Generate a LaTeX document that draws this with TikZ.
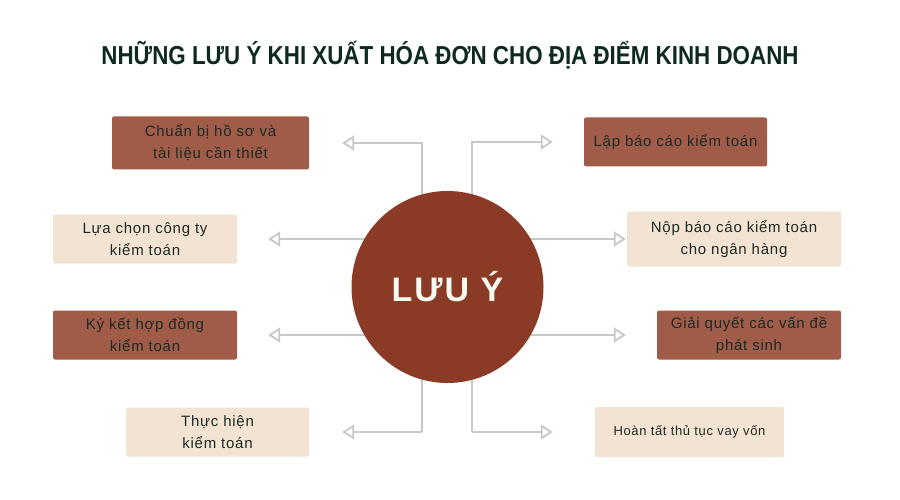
\documentclass[tikz,border=0pt]{standalone}
\usepackage{fontspec}
\usepackage{xcolor}
\usetikzlibrary{positioning,arrows.meta}
\newfontfamily\boxfont[LetterSpace=5]{Liberation Sans}
\newfontfamily\hubfont[LetterSpace=6]{Liberation Sans}
\newfontfamily\titlefont[FakeStretch=0.86]{Liberation Sans}
\definecolor{BoxDark}{HTML}{A05C48}
\definecolor{BoxLight}{HTML}{F3E3D3}
\definecolor{HubRed}{HTML}{8B3A25}
\definecolor{LinkGray}{HTML}{C8C8C8}
\definecolor{InkGreen}{HTML}{0E2A20}
\definecolor{TextDark}{HTML}{1E2A24}
\definecolor{HubText}{HTML}{F4FBF0}

\begin{document}
\begin{tikzpicture}[
      x=1pt, y=-1pt,
      every node/.style={align=center, text=TextDark},
      box/.style={rounded corners=2pt, inner sep=0pt, font=\boxfont\fontsize{15}{22}\selectfont},
      darkbox/.style={box, fill=BoxDark},
      lightbox/.style={box, fill=BoxLight},
      link/.style={LinkGray, line width=1.8pt, -{Triangle[open, length=12pt, width=15pt, line width=1.8pt]}}
    ]
      \fill[white] (0,0) rectangle (900,500);
      \useasboundingbox (0,0) rectangle (900,500);

      % Title
      \node[font=\titlefont\bfseries\fontsize{26}{30}\selectfont, text=InkGreen] (title) at (450,55)
        {NHỮNG LƯU Ý KHI XUẤT HÓA ĐƠN CHO ĐỊA ĐIỂM KINH DOANH};

      % Left boxes
      \node[darkbox, minimum width=197pt, minimum height=53pt] (chuan) at (210.5,143) {Chuẩn bị hồ sơ và\\tài liệu cần thiết};
      \node[lightbox, minimum width=184pt, minimum height=49pt] (luachon) at (145,239) {Lựa chọn công ty\\kiểm toán};
      \node[darkbox, minimum width=184pt, minimum height=49pt] (kyket) at (145,335) {Ký kết hợp đồng\\kiểm toán};
      \node[lightbox, minimum width=183pt, minimum height=49pt] (thuchien) at (217.5,432) {Thực hiện\\kiểm toán};

      % Right boxes
      \node[darkbox, minimum width=183pt, minimum height=49pt] (lap) at (675.5,142) {Lập báo cáo kiểm toán};
      \node[lightbox, minimum width=214pt, minimum height=55pt] (nop) at (734,239) {Nộp báo cáo kiểm toán\\cho ngân hàng};
      \node[darkbox, minimum width=184pt, minimum height=49pt] (giai) at (749,335) {Giải quyết các vấn đề\\phát sinh};
      \node[lightbox, minimum width=189pt, minimum height=50pt, font=\boxfont\fontsize{13}{18}\selectfont] (hoan) at (689.5,432) {Hoàn tất thủ tục vay vốn};

      % Links
      \coordinate (lspine) at (422,0);
      \coordinate (rspine) at (472,0);
      \draw[link] (lspine |- thuchien.east) -- (lspine |- chuan.east) -- ([xshift=33pt]chuan.east);
      \draw[link] (lspine |- thuchien.east) -- ([xshift=33pt]thuchien.east);
      \draw[link] (rspine |- luachon.east) -- ([xshift=31pt]luachon.east);
      \draw[link] (rspine |- kyket.east) -- ([xshift=31pt]kyket.east);
      \draw[link] (rspine |- hoan.west) -- (rspine |- lap.west) -- ([xshift=-31pt]lap.west);
      \draw[link] (rspine |- hoan.west) -- ([xshift=-42pt]hoan.west);
      \draw[link] (lspine |- nop.west) -- ([xshift=-1pt]nop.west);
      \draw[link] (lspine |- giai.west) -- ([xshift=-31pt]giai.west);

      % Hub
      \node[circle, fill=HubRed, minimum size=192pt, inner sep=0pt, text=HubText,
            font=\hubfont\bfseries\fontsize{34}{40}\selectfont] (hub) at (447.5,287) {LƯU Ý};

    \end{tikzpicture}
\end{document}
